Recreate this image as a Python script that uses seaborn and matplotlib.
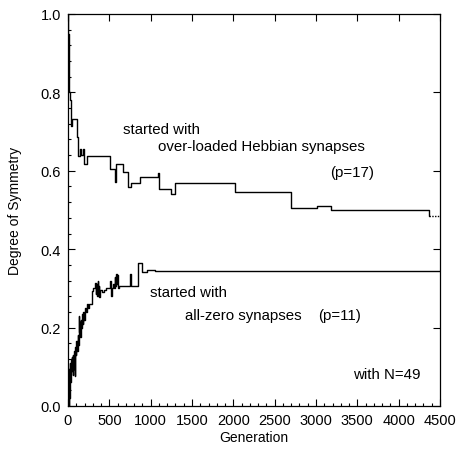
import matplotlib
matplotlib.use("Agg")
import matplotlib.pyplot as plt
import seaborn as sns
import pandas as pd
from matplotlib.ticker import MultipleLocator

sns.set_style("ticks")
plt.rcParams['font.family'] = ['Liberation Sans', 'DejaVu Sans']
plt.rcParams['text.color'] = 'black'
plt.rcParams['axes.labelcolor'] = 'black'

# Hebbian-start run (p=17): generation, degree of symmetry (step data)
heb_gen = [0, 4, 7, 12, 18, 24, 33, 40, 52, 105, 125, 145, 163, 181, 194, 226,
           508, 569, 575, 669, 726, 762, 871, 1085, 1095, 1246, 1294, 2020,
           2694, 3009, 3178, 4371]
heb_val = [1.0, 0.95, 0.89, 0.82, 0.80, 0.78, 0.745, 0.715, 0.732, 0.685, 0.639,
           0.655, 0.64, 0.655, 0.617, 0.639, 0.605, 0.571, 0.617, 0.596, 0.559,
           0.570, 0.583, 0.594, 0.553, 0.541, 0.570, 0.545, 0.504, 0.511, 0.501,
           0.485]
heb_tail_gen = [4371, 4500]
heb_tail_val = [0.485, 0.485]

# Zero-start run (p=11)
zero_gen = [0, 5, 8, 12, 15, 19, 22, 26, 30, 34, 38, 42, 46, 50, 54, 58, 62, 66,
            72, 78, 85, 90, 96, 102, 108, 115, 122, 128, 132, 136, 142, 148, 154,
            160, 168, 176, 184, 192, 200, 215, 230, 245, 260, 287, 300, 327, 335,
            342, 350, 357, 365, 372, 380, 390, 408, 430, 455, 508, 520, 527, 545,
            555, 565, 572, 580, 588, 596, 605, 620, 750, 760, 850, 895, 951, 1052,
            4500]
zero_val = [0.0, 0.08, 0.0, 0.095, 0.02, 0.10, 0.03, 0.11, 0.06, 0.11, 0.08,
            0.12, 0.09, 0.125, 0.10, 0.13, 0.08, 0.12, 0.095, 0.14, 0.077, 0.15,
            0.13, 0.165, 0.14, 0.18, 0.155, 0.21, 0.23, 0.19, 0.215, 0.175, 0.22,
            0.20, 0.235, 0.21, 0.24, 0.22, 0.25, 0.24, 0.26, 0.25, 0.26, 0.293,
            0.30, 0.315, 0.285, 0.31, 0.28, 0.32, 0.29, 0.305, 0.277, 0.295, 0.29,
            0.295, 0.30, 0.32, 0.28, 0.30, 0.31, 0.30, 0.33, 0.305, 0.337, 0.31,
            0.335, 0.30, 0.307, 0.337, 0.306, 0.365, 0.341, 0.348, 0.344, 0.344]

x_ticks = [0, 500, 1000, 1500, 2000, 2500, 3000, 3500, 4000, 4500]
y_ticks = [0.0, 0.2, 0.4, 0.6, 0.8, 1.0]

fig = plt.figure(figsize=(4.57, 4.56), dpi=100)
ax = fig.add_axes([68/457, 1-407/456, (440-68)/457, (407-15)/456])

lw = 1.0
df_h = pd.DataFrame({"g": heb_gen, "v": heb_val})
df_z = pd.DataFrame({"g": zero_gen, "v": zero_val})
df_t = pd.DataFrame({"g": heb_tail_gen, "v": heb_tail_val})
sns.lineplot(data=df_h, x="g", y="v", ax=ax, color="black", lw=lw,
             drawstyle="steps-post", sort=False, estimator=None)
sns.lineplot(data=df_z, x="g", y="v", ax=ax, color="black", lw=lw,
             drawstyle="steps-post", sort=False, estimator=None)
sns.lineplot(data=df_t, x="g", y="v", ax=ax, color="black", lw=lw,
             linestyle=(0, (1, 1)), sort=False, estimator=None)

ax.set_xlim(0, 4500)
ax.set_ylim(0, 1.0)
ax.set_xticks(x_ticks)
ax.set_xticklabels([str(t) for t in x_ticks])
ax.set_yticks(y_ticks)
ax.set_yticklabels([f"{t:.1f}" for t in y_ticks])
ax.xaxis.set_minor_locator(MultipleLocator(100))
ax.yaxis.set_minor_locator(MultipleLocator(0.04))
ax.tick_params(which="major", direction="in", length=5, width=0.8,
               top=True, right=True, labelsize=10.5, pad=5, colors="black")
ax.tick_params(which="minor", direction="in", length=2, width=0.8,
               top=False, right=False, colors="black")
for s in ax.spines.values():
    s.set_linewidth(0.9)
    s.set_color("black")

ax.set_xlabel("Generation", fontsize=10, labelpad=2)
ax.set_ylabel("Degree of Symmetry", fontsize=10, labelpad=13)

fs = 10.8
ax.text(665, 0.707, "started with", fontsize=fs, va="center", ha="left")
ax.text(1092, 0.664, "over-loaded Hebbian synapses", fontsize=fs, va="center", ha="left")
ax.text(3166, 0.596, "(p=17)", fontsize=fs, va="center", ha="left")
ax.text(992, 0.291, "started with", fontsize=fs, va="center", ha="left")
ax.text(1415, 0.233, "all-zero synapses", fontsize=fs, va="center", ha="left")
ax.text(3024, 0.233, "(p=11)", fontsize=fs, va="center", ha="left")
ax.text(3448, 0.0825, "with N=49", fontsize=fs, va="center", ha="left")

fig.savefig("out.png", dpi=100)
